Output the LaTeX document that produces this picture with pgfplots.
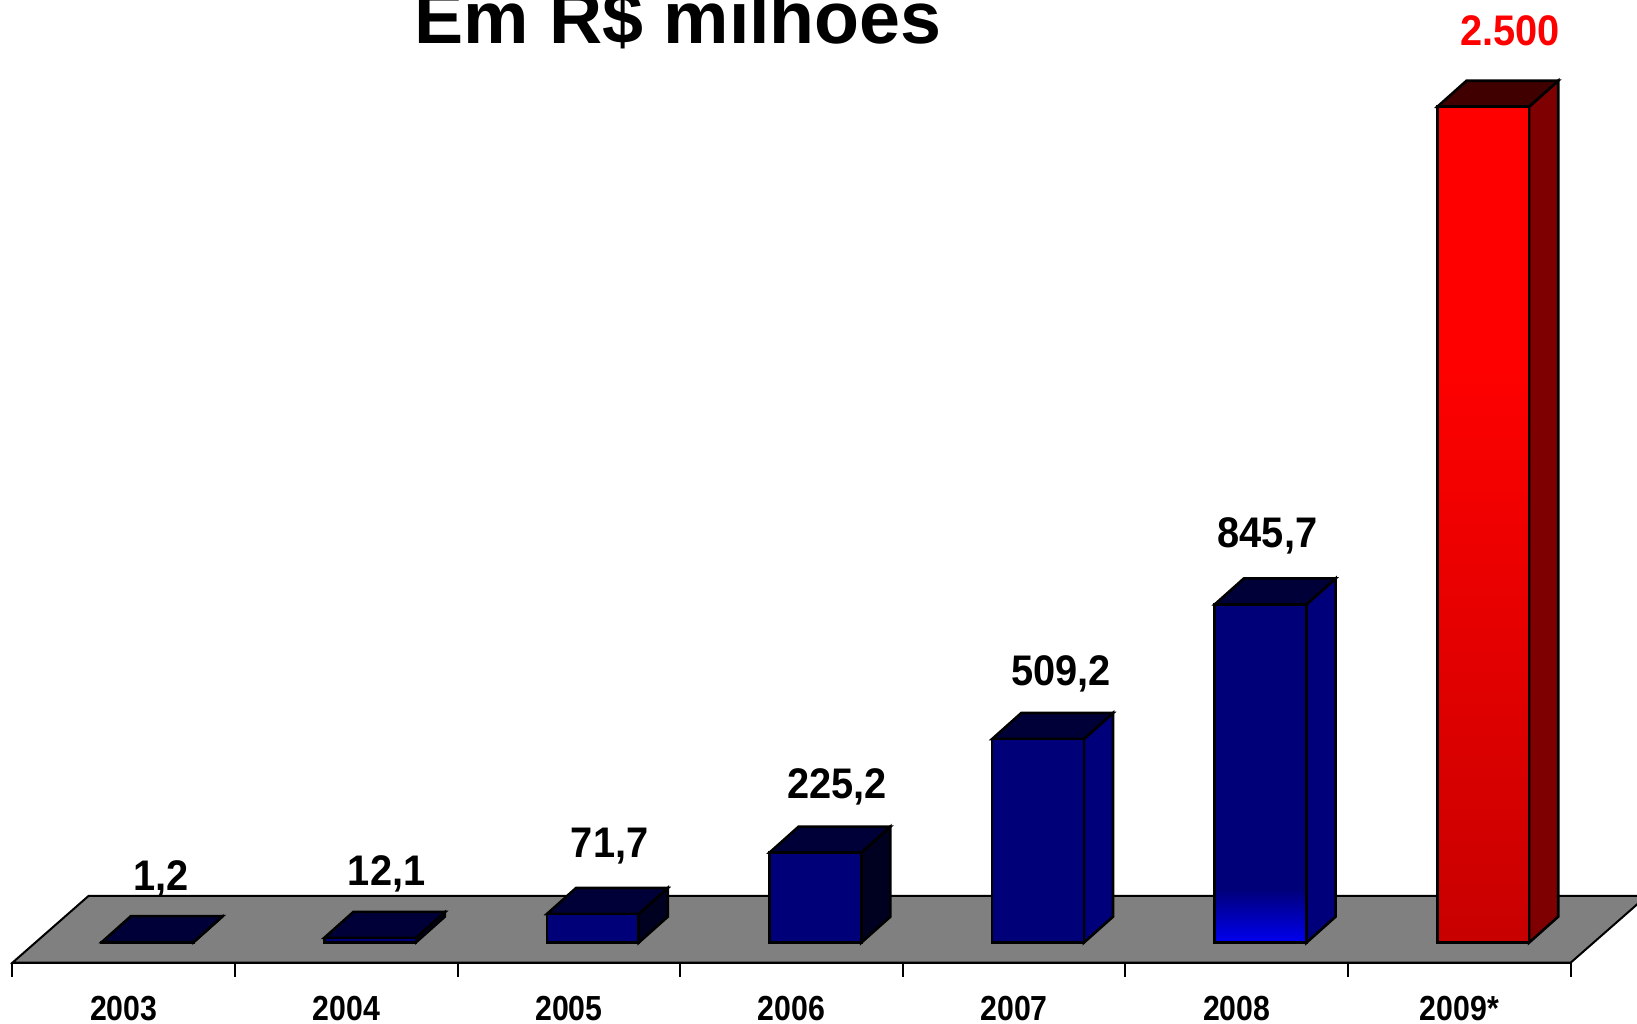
\documentclass[border=0pt]{standalone}
\usepackage{fontspec}
\setmainfont{Liberation Sans}
\newfontfamily\nb{Liberation Sans}[FakeStretch=0.87]
\newfontfamily\nbv{Liberation Sans}[FakeStretch=0.93]
\usepackage{pgfplots}
\pgfplotsset{compat=1.18}
\definecolor{navyF}{HTML}{000078}
\definecolor{navyT}{HTML}{000038}
\definecolor{navyS}{HTML}{000020}
\definecolor{navyS2}{HTML}{00007A}
\definecolor{brightblue}{HTML}{0000F0}
\definecolor{redT}{HTML}{400000}
\definecolor{redS}{HTML}{7F0000}
\definecolor{redB}{HTML}{C80000}
\definecolor{floorgray}{HTML}{808080}
\pgfdeclareverticalshading{blueshade}{100bp}{color(0bp)=(brightblue); color(25bp)=(brightblue); color(33bp)=(navyF); color(100bp)=(navyF)}
\pgfdeclareverticalshading{redshade}{100bp}{color(0bp)=(redB); color(25bp)=(redB); color(60bp)=(red); color(100bp)=(red)}
\begin{document}
\begin{tikzpicture}
\begin{axis}[
 scale only axis, width=389.6pt, height=240.7pt,
 xmin=-0.5, xmax=6.5, ymin=-50, ymax=2357,
 clip=false,
 axis x line*=bottom, axis y line=none,
 xtick={0,...,6}, xticklabels={2003,2004,2005,2006,2007,2008,2009*},
 minor xtick={-0.5,0.5,...,6.5},
 major tick length=0pt, minor tick length=3.5pt, tick align=outside,
 tick style={black, line width=0.5pt},
 axis line style={line width=0.5pt},
 xticklabel style={anchor=base, yshift=-14.5pt, font=\nb\bfseries\fontsize{8.7}{10}\selectfont},
]
% floor
\addplot[fill=floorgray, draw=black, line width=0.5pt] coordinates {(-0.5,-50)(6.5,-50)(6.842,117)(-0.158,117)} --cycle;
% side faces
\addplot[fill=navyS, draw=black, line width=0.5pt] coordinates {(0.313,0)(0.444,65)(0.444,66.2)(0.313,1.2)} --cycle;
\addplot[fill=navyS, draw=black, line width=0.5pt] coordinates {(1.313,0)(1.444,65)(1.444,77.1)(1.313,12.1)} --cycle;
\addplot[fill=navyS, draw=black, line width=0.65pt] coordinates {(2.313,0)(2.444,65)(2.444,136.7)(2.313,71.7)} --cycle;
\addplot[fill=navyS, draw=black, line width=0.65pt] coordinates {(3.313,0)(3.444,65)(3.444,290.2)(3.313,225.2)} --cycle;
\addplot[fill=navyS2, draw=black, line width=0.65pt] coordinates {(4.313,0)(4.444,65)(4.444,574.2)(4.313,509.2)} --cycle;
\addplot[fill=navyS2, draw=black, line width=0.65pt] coordinates {(5.313,0)(5.444,65)(5.444,910.7)(5.313,845.7)} --cycle;
\addplot[fill=redS, draw=black, line width=0.65pt] coordinates {(6.313,0)(6.444,65)(6.444,2155)(6.313,2090)} --cycle;
% top faces
\addplot[fill=navyT, draw=black, line width=0.65pt] coordinates {(-0.099,1.2)(0.313,1.2)(0.444,66.2)(0.032,66.2)} --cycle;
\addplot[fill=navyT, draw=black, line width=0.65pt] coordinates {(0.901,12.1)(1.313,12.1)(1.444,77.1)(1.032,77.1)} --cycle;
\addplot[fill=navyT, draw=black, line width=0.65pt] coordinates {(1.901,71.7)(2.313,71.7)(2.444,136.7)(2.032,136.7)} --cycle;
\addplot[fill=navyT, draw=black, line width=0.65pt] coordinates {(2.901,225.2)(3.313,225.2)(3.444,290.2)(3.032,290.2)} --cycle;
\addplot[fill=navyT, draw=black, line width=0.65pt] coordinates {(3.901,509.2)(4.313,509.2)(4.444,574.2)(4.032,574.2)} --cycle;
\addplot[fill=navyT, draw=black, line width=0.65pt] coordinates {(4.901,845.7)(5.313,845.7)(5.444,910.7)(5.032,910.7)} --cycle;
\addplot[fill=redT, draw=black, line width=0.65pt] coordinates {(5.901,2090)(6.313,2090)(6.444,2155)(6.032,2155)} --cycle;
% front faces
\addplot[ybar, bar width=0.412, bar shift=0pt, fill=navyF, draw=black, line width=0.65pt] coordinates {(0.107,1.2)(1.107,12.1)(2.107,71.7)(3.107,225.2)(4.107,509.2)};
\addplot[ybar, bar width=0.412, bar shift=0pt, shading=blueshade, draw=black, line width=0.65pt] coordinates {(5.107,845.7)};
\addplot[ybar, bar width=0.412, bar shift=0pt, shading=redshade, draw=black, line width=0.65pt] coordinates {(6.107,2090)};
% value labels
\addplot[draw=none, mark=none, nodes near coords, point meta=explicit symbolic,
 every node near coord/.append style={anchor=base, inner sep=0pt, font=\nbv\bfseries\fontsize{10.7}{12}\selectfont}]
 table[meta=lab] {
x y lab
0.166 130 1,2
1.181 144 12,1
2.183 212 71,7
3.204 360 225,2
4.21 642 509,2
5.138 987 845,7
};
\addplot[draw=none, mark=none, nodes near coords, point meta=explicit symbolic,
 every node near coord/.append style={anchor=base, inner sep=0pt, text=red, font=\nbv\bfseries\fontsize{10.7}{12}\selectfont}]
 table[meta=lab] {
x y lab
6.227 2242 2.500
};
\node[anchor=base, inner sep=0pt, font=\bfseries\fontsize{18.4}{22}\selectfont] at (axis cs:2.49,2249) {Em R\$ milhoes};
\coordinate (bl) at (axis cs:-0.556,-203);
\coordinate (tr) at (axis cs:6.798,2357);
\end{axis}
\pgfresetboundingbox
\useasboundingbox (bl) rectangle (tr);
\end{tikzpicture}
\end{document}
